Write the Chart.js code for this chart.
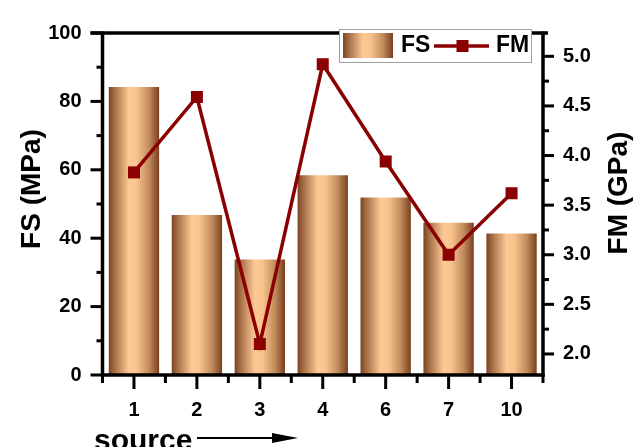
<!DOCTYPE html>
<html>
<head>
<meta charset="utf-8">
<script src="https://cdn.jsdelivr.net/npm/chart.js@4.4.1/dist/chart.umd.min.js"></script>
<style>
    body { margin: 0; background: #fff; }
    #wrap { width: 637px; height: 447px; }
</style>
</head>
<body>
<div id="wrap"><canvas id="fsChart" width="637" height="447"></canvas></div>
<script>
const sources = ['1', '2', '3', '4', '6', '7', '10'];
const fsValues = [84.2, 46.8, 33.8, 58.4, 51.9, 44.5, 41.4];
const fmValues = [3.83, 4.59, 2.1, 4.92, 3.94, 3.0, 3.62];
const fsTicks = [0, 20, 40, 60, 80, 100];
const fsMinorTicks = [10, 30, 50, 70, 90];
const fmTicks = [2.0, 2.5, 3.0, 3.5, 4.0, 4.5, 5.0];
const fmMinorTicks = [2.25, 2.75, 3.25, 3.75, 4.25, 4.75];

const FONT = "'Liberation Sans', Arial, sans-serif";
const lineColor = '#8b0000';

const makeGradient = (ctx, x0, x1) => {
    const g = ctx.createLinearGradient(x0, 0, x1, 0);
    g.addColorStop(0, '#7a4322');
    g.addColorStop(0.12, '#a86f47');
    g.addColorStop(0.4, '#fcc994');
    g.addColorStop(0.55, '#f9c48e');
    g.addColorStop(0.8, '#c28b5e');
    g.addColorStop(1, '#7a3f1d');
    return g;
};

const barFill = (context) => {
    const chart = context.chart;
    const area = chart.chartArea;
    if (!area || !chart.scales.x) return '#e0a877';
    const x = chart.scales.x.getPixelForValue(context.dataIndex);
    const w = ((area.right - area.left) / sources.length) * 0.8;
    return makeGradient(chart.ctx, x - w / 2, x + w / 2);
};

// axes, ticks, titles and legend box
const decorations = {
    id: 'decorations',
    afterDraw(chart) {
        const { ctx, chartArea: a, scales } = chart;
        ctx.save();
        ctx.strokeStyle = '#000';
        ctx.lineCap = 'butt';

        // ticks
        ctx.lineWidth = 3;
        const tick = (x0, y0, x1, y1) => {
            ctx.beginPath();
            ctx.moveTo(x0, y0);
            ctx.lineTo(x1, y1);
            ctx.stroke();
        };
        fsTicks.forEach((v) => {
            const y = scales.y.getPixelForValue(v);
            tick(a.left - 12, y, a.left, y);
        });
        fsMinorTicks.forEach((v) => {
            const y = scales.y.getPixelForValue(v);
            tick(a.left - 6, y, a.left, y);
        });
        fmTicks.forEach((v) => {
            const y = scales.y1.getPixelForValue(v);
            tick(a.right, y, a.right + 11, y);
        });
        fmMinorTicks.forEach((v) => {
            const y = scales.y1.getPixelForValue(v);
            tick(a.right, y, a.right + 6, y);
        });
        for (let i = 0; i < sources.length; i++) {
            const x = scales.x.getPixelForValue(i);
            tick(x, a.bottom, x, a.bottom + 14);
        }
        for (let i = 0; i <= sources.length; i++) {
            const x = scales.x.getPixelForValue(i - 0.5);
            tick(x, a.bottom, x, a.bottom + 8);
        }

        // axis lines
        ctx.lineWidth = 3.5;
        tick(a.left, a.top - 1.5, a.left, a.bottom + 1.5);
        tick(a.right, a.top - 1.5, a.right, a.bottom + 1.5);
        tick(a.left - 1.5, a.bottom, a.right + 1.5, a.bottom);
        tick(a.left - 12, a.top, a.right + 5, a.top);

        // axis titles
        ctx.fillStyle = '#000';
        ctx.font = `bold 28px ${FONT}`;
        ctx.textAlign = 'center';
        ctx.textBaseline = 'middle';
        ctx.save();
        ctx.translate(32, 189);
        ctx.rotate(-Math.PI / 2);
        ctx.fillText('FS (MPa)', 0, 0);
        ctx.restore();
        ctx.save();
        ctx.translate(619, 193);
        ctx.rotate(-Math.PI / 2);
        ctx.fillText('FM (GPa)', 0, 0);
        ctx.restore();

        ctx.font = `bold 30px ${FONT}`;
        ctx.textAlign = 'left';
        ctx.textBaseline = 'alphabetic';
        ctx.fillText('source', 94, 450);
        ctx.lineWidth = 2;
        tick(197, 438, 276, 438);
        ctx.beginPath();
        ctx.moveTo(272, 433);
        ctx.lineTo(298, 438);
        ctx.lineTo(272, 443);
        ctx.closePath();
        ctx.fill();

        // legend
        ctx.fillStyle = '#fff';
        ctx.fillRect(339.5, 29.5, 192, 33);
        ctx.strokeStyle = '#a0a0a0';
        ctx.lineWidth = 1;
        ctx.strokeRect(339.5, 29.5, 192, 33);
        ctx.fillStyle = makeGradient(ctx, 343, 393);
        ctx.fillRect(343, 33, 50, 25);
        ctx.fillStyle = '#000';
        ctx.font = `bold 23px ${FONT}`;
        ctx.textBaseline = 'middle';
        ctx.fillText('FS', 401, 46);
        ctx.strokeStyle = lineColor;
        ctx.lineWidth = 3.5;
        tick(434, 46, 489, 46);
        ctx.fillStyle = lineColor;
        ctx.fillRect(456.5, 40, 12, 12);
        ctx.fillStyle = '#000';
        ctx.fillText('FM', 496, 46);
        ctx.restore();
    },
};

const ctx = document.getElementById('fsChart');
const myChart = new Chart(ctx, {
    data: {
        labels: sources,
        datasets: [
            {
                type: 'line',
                label: 'FM',
                data: fmValues,
                yAxisID: 'y1',
                borderColor: lineColor,
                backgroundColor: lineColor,
                borderWidth: 3.5,
                pointStyle: 'rect',
                pointRadius: 8.5,
                pointHoverRadius: 8.5,
                pointBackgroundColor: lineColor,
                pointBorderWidth: 0,
                tension: 0,
                clip: false,
                order: 0,
            },
            {
                type: 'bar',
                label: 'FS',
                data: fsValues,
                yAxisID: 'y',
                backgroundColor: barFill,
                borderWidth: 0,
                barPercentage: 1,
                categoryPercentage: 0.8,
                order: 1,
            },
        ],
    },
    options: {
        responsive: false,
        animation: false,
        devicePixelRatio: 1,
        layout: { padding: { top: 23, left: 0, right: 0, bottom: 0 } },
        plugins: {
            legend: { display: false },
            tooltip: { enabled: false },
        },
        scales: {
            x: {
                offset: true,
                grid: { display: false, drawTicks: false },
                border: { display: false },
                ticks: {
                    color: '#000',
                    padding: 23,
                    font: { family: FONT, size: 20, weight: 'bold' },
                },
                afterFit: (s) => {
                    s.height = 72;
                },
            },
            y: {
                position: 'left',
                min: 0,
                max: 100,
                grid: { display: false, drawTicks: false },
                border: { display: false },
                ticks: {
                    stepSize: 20,
                    color: '#000',
                    padding: 21,
                    font: { family: FONT, size: 20, weight: 'bold' },
                },
                afterFit: (s) => {
                    s.width = 102.5;
                },
            },
            y1: {
                position: 'right',
                min: 1.788,
                max: 5.235,
                grid: { display: false, drawTicks: false },
                border: { display: false },
                afterBuildTicks: (s) => {
                    s.ticks = fmTicks.map((v) => ({ value: v }));
                },
                ticks: {
                    color: '#000',
                    padding: 20,
                    font: { family: FONT, size: 20, weight: 'bold' },
                    callback: (v) => Number(v).toFixed(1),
                },
                afterFit: (s) => {
                    s.width = 94;
                },
            },
        },
    },
    plugins: [decorations],
});
</script>
</body>
</html>
